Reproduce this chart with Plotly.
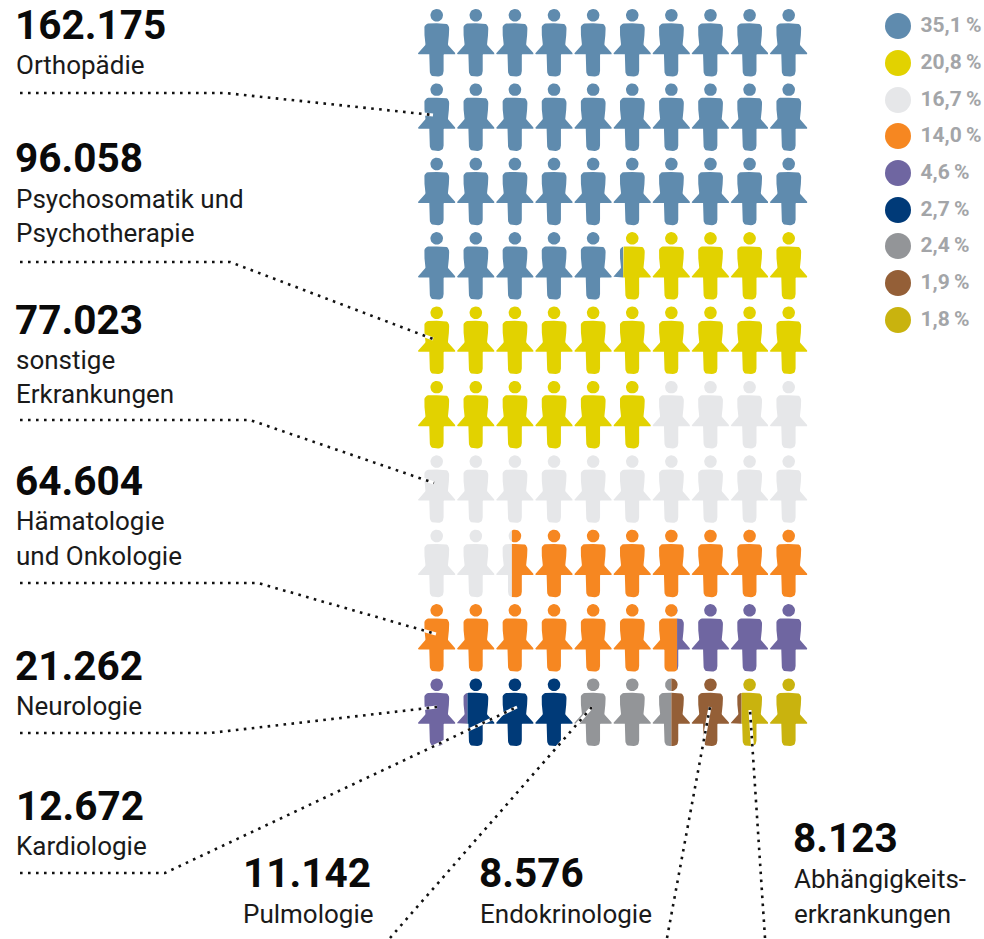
import plotly.graph_objects as go
import math

# ---- data ----
categories = ["Orthopädie", "Psychosomatik und Psychotherapie", "sonstige Erkrankungen",
              "Hämatologie und Onkologie", "Neurologie", "Kardiologie", "Pulmologie",
              "Endokrinologie", "Abhängigkeitserkrankungen"]
case_labels = ["162.175", "96.058", "77.023", "64.604", "21.262", "12.672", "11.142", "8.576", "8.123"]
percent_labels = ["35,1\u2009%", "20,8\u2009%", "16,7\u2009%", "14,0\u2009%", "4,6\u2009%", "2,7\u2009%", "2,4\u2009%", "1,9\u2009%", "1,8\u2009%"]
# figures per category, as drawn (out of 100 figures)
figures = [35.26, 20.74, 16.42, 14.23, 4.63, 2.72, 2.50, 1.79, 1.71]
colors = ["#5f8bae", "#e2d200", "#e6e7e9", "#f68721", "#6f66a1", "#003a78", "#939598", "#945f37", "#c9b30e"]

label_lines = [["Orthopädie"], ["Psychosomatik und", "Psychotherapie"], ["sonstige", "Erkrankungen"],
               ["Hämatologie", "und Onkologie"], ["Neurologie"], ["Kardiologie"], ["Pulmologie"],
               ["Endokrinologie"], ["Abhängigkeits-", "erkrankungen"]]
number_pos = [(17, 25), (17, 158), (17, 320), (17, 481), (17, 666), (18, 806), (245, 873), (481, 873), (795, 838)]
label_pos = [(17, [65]), (17, [199, 233]), (17, [360, 394]), (17, [521, 556]), (17, [706]),
             (17, [846]), (244, [914]), (481, [914]), (795, [879, 914])]
leaders = [
    [(20, 93), (225, 93), (433, 115)],
    [(20, 262), (230, 262), (433, 339)],
    [(20, 420), (250, 420), (434, 483)],
    [(20, 583), (258, 583), (436, 634)],
    [(20, 733), (210, 733), (437, 707)],
    [(20, 873), (165, 873), (517, 707)],
    [(390, 938), (592, 707)],
    [(667, 938), (710, 707)],
    [(765, 938), (750, 710)],
]
legend_x, legend_ys = 898, [26, 63, 100, 136, 173, 210, 246, 283, 320]
col_xs = [436.7 + 39.11 * i for i in range(10)]
row_ys = [15.3, 89.7, 164, 238.4, 312.8, 387.2, 461.6, 536, 610.4, 684.8]

FIG_HALF = 19.0
FONT = "Roboto"


def corner(p0, p1, p2, r, n=6):
    def toward(a, b, d):
        L = ((b[0] - a[0]) ** 2 + (b[1] - a[1]) ** 2) ** 0.5
        return (a[0] + (b[0] - a[0]) * d / L, a[1] + (b[1] - a[1]) * d / L)
    if r == 0:
        return [p1]
    a, b = toward(p1, p0, r), toward(p1, p2, r)
    out = []
    for k in range(n + 1):
        t = k / n
        out.append(((1 - t) ** 2 * a[0] + 2 * t * (1 - t) * p1[0] + t ** 2 * b[0],
                    (1 - t) ** 2 * a[1] + 2 * t * (1 - t) * p1[1] + t ** 2 * b[1]))
    return out


def body_outline():
    half = [(0, 8, 0), (12.4, 8, 5.5), (12.5, 17, 3), (11.2, 29.5, 0.5), (FIG_HALF, 38.4, 0.8),
            (FIG_HALF - 0.6, 39, 0.4), (6.9, 39, 0.5), (6.9, 61.2, 5.5), (0, 61.2, 0)]
    pts = [(x, y) for x, y, _ in half]
    rad = [r for _, _, r in half]
    right = [pts[0]]
    for i in range(1, len(pts) - 1):
        right += corner(pts[i - 1], pts[i], pts[i + 1], rad[i])
    right.append(pts[-1])
    left = [(-x, y) for x, y in reversed(right)]
    return right + left[1:-1]


def head_outline(r=6.3, n=28):
    return [(r * math.cos(2 * math.pi * k / n), r * math.sin(2 * math.pi * k / n)) for k in range(n)]


def clip(poly, lo, hi):
    def half(poly, keep, cross):
        out = []
        for i in range(len(poly)):
            a, b = poly[i], poly[(i + 1) % len(poly)]
            if keep(a):
                out.append(a)
            if keep(a) != keep(b):
                t = (cross - a[0]) / (b[0] - a[0])
                out.append((cross, a[1] + t * (b[1] - a[1])))
        return out
    p = half(poly, lambda q: q[0] >= lo, lo)
    return half(p, lambda q: q[0] <= hi, hi) if p else p


BODY, HEAD = body_outline(), head_outline()
fig = go.Figure()

# pictogram: 100 figures, each cut by the running total of the categories
start = 0.0
for name, count, color in zip(categories, figures, colors):
    end = start + count
    xs, ys = [], []
    for idx in range(100):
        lo, hi = max(start, idx), min(end, idx + 1)
        if hi <= lo:
            continue
        cx, cy = col_xs[idx % 10], row_ys[idx // 10]
        x_lo = -FIG_HALF + (lo - idx) * 2 * FIG_HALF
        x_hi = -FIG_HALF + (hi - idx) * 2 * FIG_HALF
        for poly in (HEAD, BODY):
            part = clip(poly, x_lo, x_hi)
            if len(part) > 2:
                xs += [cx + p[0] for p in part] + [cx + part[0][0], None]
                ys += [cy + p[1] for p in part] + [cy + part[0][1], None]
    fig.add_trace(go.Scatter(x=xs, y=ys, mode="lines", fill="toself", fillcolor=color,
                             line=dict(width=0, color=color), name=name, hoverinfo="name"))
    start = end

# leader lines: white underlay plus dots
for path in leaders:
    px, py = zip(*path)
    fig.add_trace(go.Scatter(x=px, y=py, mode="lines", line=dict(color="#ffffff", width=3), hoverinfo="skip"))
    fig.add_trace(go.Scatter(x=px, y=py, mode="lines", line=dict(color="#111111", width=2.6, dash="2.6px,5.4px"),
                             hoverinfo="skip"))

# legend
fig.add_trace(go.Scatter(x=[legend_x] * len(colors), y=legend_ys, mode="markers",
                         marker=dict(size=26, color=colors), hoverinfo="skip"))
fig.add_trace(go.Scatter(x=[920.5] * len(colors), y=[v + 1 for v in legend_ys], mode="text", text=percent_labels,
                         textposition="middle right", hoverinfo="skip",
                         textfont=dict(family=FONT, size=21, color="#a3a5a8", weight=700)))

anns = []
for txt, (x, y) in zip(case_labels, number_pos):
    anns.append(dict(x=x, y=y, text=txt, xanchor="left", yanchor="middle", showarrow=False,
                     font=dict(family=FONT, size=40.5, color="#0a0a0a", weight=700), xshift=-4))
for lines, (x, ylist) in zip(label_lines, label_pos):
    for line, y in zip(lines, ylist):
        anns.append(dict(x=x, y=y, text=line, xanchor="left", yanchor="middle", showarrow=False,
                         font=dict(family=FONT, size=26, color="#1a1a1a"), xshift=-3))

fig.update_layout(
    width=984, height=939, margin=dict(l=0, r=0, t=0, b=0), showlegend=False,
    paper_bgcolor="#ffffff", plot_bgcolor="#ffffff", annotations=anns,
    xaxis=dict(range=[0, 984], visible=False, fixedrange=True),
    yaxis=dict(range=[939, 0], visible=False, fixedrange=True),
)
fig.write_html("out.html", config=dict(displayModeBar=False),
               post_script="document.body.style.margin='0';document.body.style.overflow='hidden';")
